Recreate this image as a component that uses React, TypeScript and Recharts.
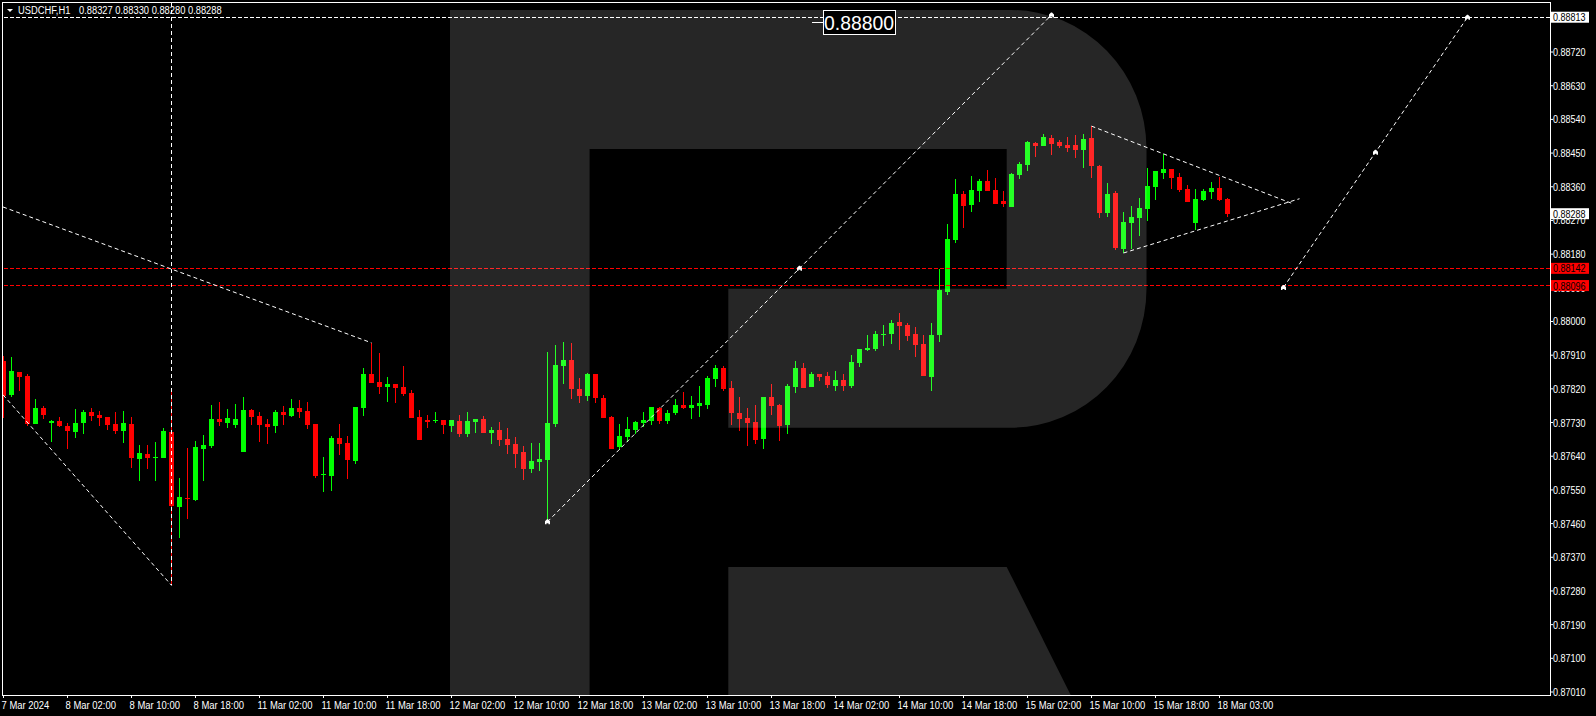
import { Bar, ComposedChart, Line, ReferenceLine, XAxis, YAxis } from 'recharts';

// all prices are in points (1/100000 CHF), hourly candles from 7 Mar 2024
const opens = [
  87894, 87803, 87865, 87854, 87726, 87769, 87728, 87734, 87720, 87704,
  87728, 87758, 87750, 87745, 87726, 87707, 87726, 87632, 87646, 87635,
  87635, 87704, 87504, 87528, 87523, 87659, 87667, 87739, 87728, 87723,
  87651, 87763, 87747, 87726, 87720, 87758, 87747, 87769, 87761, 87726,
  87590, 87587, 87688, 87675, 87627, 87769, 87859, 87838, 87825, 87833,
  87825, 87809, 87745, 87737, 87734, 87737, 87720, 87734, 87699, 87731,
  87739, 87702, 87710, 87686, 87672, 87651, 87606, 87624, 87630, 87726,
  87881, 87897, 87819, 87801, 87859, 87795, 87745, 87664, 87691, 87710,
  87728, 87734, 87769, 87734, 87755, 87777, 87769, 87774, 87777, 87846,
  87875, 87822, 87755, 87742, 87731, 87686, 87798, 87777, 87723, 87825,
  87875, 87825, 87859, 87854, 87827, 87843, 87827, 87889, 87923, 87926,
  87964, 87966, 87998, 87990, 87966, 87939, 87851, 87964, 88078, 88217,
  88340, 88311, 88348, 88375, 88351, 88322, 88306, 88391, 88418, 88477,
  88469, 88490, 88479, 88471, 88471, 88458, 88490, 88415, 88289, 88343,
  88193, 88263, 88276, 88300, 88359, 88396, 88407, 88386, 88354, 88263,
  88324, 88346, 88356, 88327,
];
const highs = [
  87908, 87905, 87865, 87859, 87793, 87774, 87737, 87745, 87728, 87766,
  87763, 87769, 87761, 87745, 87758, 87761, 87745, 87670, 87670, 87678,
  87715, 87817, 87582, 87662, 87680, 87696, 87777, 87785, 87766, 87779,
  87798, 87766, 87758, 87739, 87763, 87774, 87793, 87790, 87785, 87726,
  87638, 87694, 87726, 87694, 87771, 87875, 87943, 87916, 87851, 87833,
  87881, 87817, 87763, 87750, 87758, 87737, 87737, 87750, 87758, 87739,
  87747, 87718, 87731, 87715, 87691, 87667, 87675, 87675, 87918, 87937,
  87945, 87942, 87849, 87862, 87859, 87803, 87747, 87726, 87745, 87734,
  87758, 87771, 87771, 87763, 87793, 87811, 87801, 87827, 87854, 87883,
  87881, 87841, 87798, 87769, 87777, 87798, 87833, 87779, 87833, 87894,
  87889, 87865, 87859, 87865, 87867, 87859, 87910, 87926, 87964, 87974,
  87990, 88004, 88022, 87996, 87985, 87964, 87996, 88140, 88260, 88380,
  88348, 88388, 88380, 88404, 88383, 88348, 88396, 88426, 88482, 88479,
  88501, 88498, 88485, 88493, 88498, 88501, 88522, 88418, 88370, 88348,
  88292, 88308, 88330, 88410, 88402, 88447, 88407, 88396, 88364, 88354,
  88354, 88372, 88386, 88330,
];
const lows = [
  87743, 87798, 87814, 87720, 87726, 87739, 87678, 87718, 87659, 87688,
  87699, 87734, 87720, 87710, 87699, 87675, 87608, 87574, 87606, 87574,
  87635, 87295, 87421, 87472, 87520, 87574, 87662, 87720, 87715, 87715,
  87651, 87723, 87678, 87672, 87702, 87723, 87745, 87742, 87712, 87582,
  87544, 87547, 87643, 87579, 87619, 87747, 87835, 87806, 87785, 87782,
  87801, 87742, 87683, 87715, 87728, 87699, 87704, 87691, 87691, 87702,
  87702, 87672, 87667, 87646, 87608, 87576, 87595, 87600, 87469, 87718,
  87833, 87793, 87782, 87787, 87782, 87742, 87659, 87656, 87678, 87699,
  87718, 87723, 87726, 87726, 87750, 87766, 87739, 87745, 87766, 87825,
  87814, 87723, 87707, 87667, 87672, 87659, 87750, 87680, 87699, 87809,
  87822, 87825, 87841, 87822, 87814, 87814, 87822, 87878, 87921, 87921,
  87934, 87939, 87923, 87947, 87905, 87854, 87814, 87945, 88070, 88209,
  88249, 88292, 88319, 88348, 88314, 88306, 88306, 88380, 88402, 88439,
  88469, 88444, 88463, 88452, 88436, 88410, 88383, 88276, 88279, 88191,
  88183, 88193, 88228, 88268, 88324, 88380, 88354, 88346, 88319, 88244,
  88322, 88327, 88322, 88280,
];
const closes = [
  87802, 87867, 87851, 87726, 87769, 87750, 87734, 87720, 87707, 87728,
  87758, 87747, 87742, 87723, 87707, 87728, 87635, 87648, 87635, 87638,
  87707, 87507, 87531, 87525, 87664, 87670, 87739, 87731, 87742, 87739,
  87763, 87745, 87723, 87718, 87758, 87750, 87769, 87758, 87723, 87587,
  87592, 87688, 87672, 87630, 87771, 87859, 87835, 87825, 87833, 87822,
  87806, 87742, 87683, 87731, 87737, 87723, 87737, 87699, 87734, 87739,
  87702, 87710, 87683, 87670, 87646, 87606, 87627, 87632, 87728, 87883,
  87897, 87819, 87801, 87859, 87795, 87742, 87659, 87694, 87712, 87731,
  87737, 87771, 87734, 87755, 87777, 87769, 87777, 87782, 87849, 87875,
  87819, 87755, 87739, 87728, 87683, 87798, 87774, 87720, 87827, 87875,
  87822, 87859, 87851, 87830, 87843, 87827, 87891, 87926, 87929, 87966,
  87966, 87996, 87988, 87961, 87937, 87854, 87964, 88084, 88220, 88340,
  88308, 88351, 88375, 88348, 88314, 88314, 88394, 88420, 88479, 88469,
  88493, 88474, 88469, 88463, 88458, 88487, 88415, 88289, 88340, 88196,
  88265, 88279, 88303, 88362, 88402, 88407, 88383, 88351, 88319, 88327,
  88348, 88356, 88324, 88288,
];

const timeLabels = [
  '7 Mar 2024', '8 Mar 02:00', '8 Mar 10:00', '8 Mar 18:00', '11 Mar 02:00',
  '11 Mar 10:00', '11 Mar 18:00', '12 Mar 02:00', '12 Mar 10:00', '12 Mar 18:00',
  '13 Mar 02:00', '13 Mar 10:00', '13 Mar 18:00', '14 Mar 02:00', '14 Mar 10:00',
  '14 Mar 18:00', '15 Mar 02:00', '15 Mar 10:00', '15 Mar 18:00', '18 Mar 03:00',
];
const timeTicks = timeLabels.map((_, n) => n * 8);

const priceTicks = [
  88720, 88630, 88540, 88450, 88360, 88270, 88180, 88090, 88000, 87910,
  87820, 87730, 87640, 87550, 87460, 87370, 87280, 87190, 87100, 87010,
];
const tagPrices = [88813, 88288, 88142, 88096];
const tagColors = ['#ffffff', '#ffffff', '#ff0000', '#ff0000'];

// hand-drawn trend lines: i = candle index (may run past the last candle), p = price
const trendLeftUpper = [{ i: -0.06, p: 88306 }, { i: 46, p: 87943 }];
const trendLeftLower = [{ i: -0.06, p: 87804 }, { i: 21, p: 87295 }];
const trendVertical = [{ i: 21, p: 88851 }, { i: 21, p: 87295 }];
const trendMain = [
  { i: 68, p: 87465, mark: true },
  { i: 99.5, p: 88142, mark: true },
  { i: 131, p: 88819, mark: true },
];
const wedgeUpper = [{ i: 136, p: 88522 }, { i: 161, p: 88316 }];
const wedgeLower = [{ i: 140, p: 88183 }, { i: 162, p: 88328 }];
const forecast = [
  { i: 160, p: 88091, mark: true },
  { i: 171.5, p: 88452, mark: true },
  { i: 183, p: 88813, mark: true },
];
const trendLines = [trendLeftUpper, trendLeftLower, trendVertical, trendMain, wedgeUpper, wedgeLower, forecast];

const candles = opens.map((open, i) => ({
  i,
  open,
  close: closes[i],
  high: highs[i],
  low: lows[i],
  range: [lows[i], highs[i]],
}));

const UI_FONT = '"Liberation Sans", sans-serif';
const fmt = (p: number) => (p / 100000).toFixed(5);

// no narrow font is installed, so the terminal's small labels are squeezed sideways
function SmallText({ x, y, squeeze, fill = '#fff', children }: any) {
  return (
    <text transform={`translate(${x} ${y}) scale(${squeeze} 1)`} fill={fill} fontSize={11} fontFamily={UI_FONT}>
      {children}
    </text>
  );
}

function Candle(props: any) {
  const { x, y, width, height, payload } = props;
  const { open, close, high, low } = payload;
  const color = close >= open ? '#00ff00' : '#ff0000';
  const perPoint = height / (high - low);
  const bodyTop = y + (high - Math.max(open, close)) * perPoint;
  const bodyHeight = Math.max(1, Math.abs(close - open) * perPoint);
  const center = x + width / 2;
  return (
    <g shapeRendering="crispEdges">
      <rect x={center - 0.5} y={y} width={1} height={height} fill={color} />
      <rect x={center - 2.5} y={bodyTop} width={5} height={bodyHeight} fill={color} />
    </g>
  );
}

function PriceTick({ x, y, payload }: any) {
  const tagIdx = tagPrices.indexOf(payload.value);
  if (tagIdx < 0) {
    return <SmallText x={x - 2} y={y + 4} squeeze={0.82}>{fmt(payload.value)}</SmallText>;
  }
  return (
    <g>
      <rect x={x - 5} y={y - 5.5} width={39} height={11} fill={tagColors[tagIdx]} />
      <SmallText x={x - 2} y={y + 4} squeeze={0.82} fill="#000">{fmt(payload.value)}</SmallText>
    </g>
  );
}

function TimeTick({ x, y, payload }: any) {
  return <SmallText x={x - 2} y={y + 9} squeeze={0.86}>{timeLabels[payload.value / 8]}</SmallText>;
}

function TrendDot({ cx, cy, payload, index }: any) {
  if (!payload.mark) return <g key={index} />;
  return (
    <path
      key={index}
      d={`M${cx - 2.5} ${cy + 2.5}v-3l2 -2h1l2 2v3h-1.5v-1h-2v1z`}
      fill="#fff"
    />
  );
}

export default function App() {
  return (
    <div style={{ position: 'absolute', left: 0, top: 0, width: 1596, height: 716, background: '#000', overflow: 'hidden' }}>
      <ComposedChart
        width={1596}
        height={716}
        data={candles}
        margin={{ top: 3, right: 0, bottom: 0, left: 3 }}
      >
        <XAxis
          dataKey="i"
          type="number"
          domain={[-0.0625, 193.3125]}
          allowDataOverflow
          ticks={timeTicks}
          interval={0}
          height={21}
          axisLine={false}
          tickLine={{ stroke: '#fff' }}
          tickSize={3}
          tick={<TimeTick />}
        />
        <YAxis
          orientation="right"
          type="number"
          domain={[87002, 88851]}
          allowDataOverflow
          ticks={[...priceTicks, ...tagPrices]}
          interval={0}
          width={46}
          axisLine={false}
          tickLine={{ stroke: '#fff' }}
          tickSize={3}
          tick={<PriceTick />}
        />
        <ReferenceLine y={88142} stroke="#ff0000" strokeDasharray="4 2" shapeRendering="crispEdges" />
        <ReferenceLine y={88096} stroke="#ff0000" strokeDasharray="4 2" shapeRendering="crispEdges" />
        <Bar dataKey="range" barSize={5} shape={Candle} isAnimationActive={false} />
        <ReferenceLine y={88813} stroke="#fff" strokeDasharray="4 2" shapeRendering="crispEdges" />
        {trendLines.map((pts, n) => (
          <Line
            key={n}
            data={pts}
            dataKey="p"
            type="linear"
            stroke="#fff"
            strokeWidth={1}
            strokeDasharray="4 3"
            dot={TrendDot}
            activeDot={false}
            legendType="none"
            isAnimationActive={false}
          />
        ))}
      </ComposedChart>

      {/* watermark sits over the candles, that's why they get lighter inside it */}
      <svg width={1596} height={716} style={{ position: 'absolute', left: 0, top: 0, pointerEvents: 'none' }}>
        <path
          d="M450 10H1011A135.5 139 0 0 1 1146.5 149V288.7A135.5 139 0 0 1 1011 427.7H728.3V288.7H1006.7V149H589.6V695H450Z"
          fill="#fff"
          fillOpacity={0.149}
        />
        <path d="M728.3 567H1006.7L1070.7 695H728.3Z" fill="#fff" fillOpacity={0.149} />

        <rect x={2.5} y={2.5} width={1548} height={693} fill="none" stroke="#fff" shapeRendering="crispEdges" />

        <polygon points="7,9 13,9 10,12" fill="#fff" />
        <SmallText x={18} y={14} squeeze={0.85}>USDCHF,H1</SmallText>
        <SmallText x={79} y={14} squeeze={0.85}>0.88327 0.88330 0.88280 0.88288</SmallText>

        <line x1={812} x2={823} y1={22.5} y2={22.5} stroke="#fff" shapeRendering="crispEdges" />
        <rect x={823} y={10.5} width={72} height={24} fill="#000" stroke="#fff" shapeRendering="crispEdges" />
        <text x={824} y={30} fill="#fff" fontSize={20} fontFamily={UI_FONT} textLength={70} lengthAdjust="spacingAndGlyphs">
          0.88800
        </text>
      </svg>
    </div>
  );
}
